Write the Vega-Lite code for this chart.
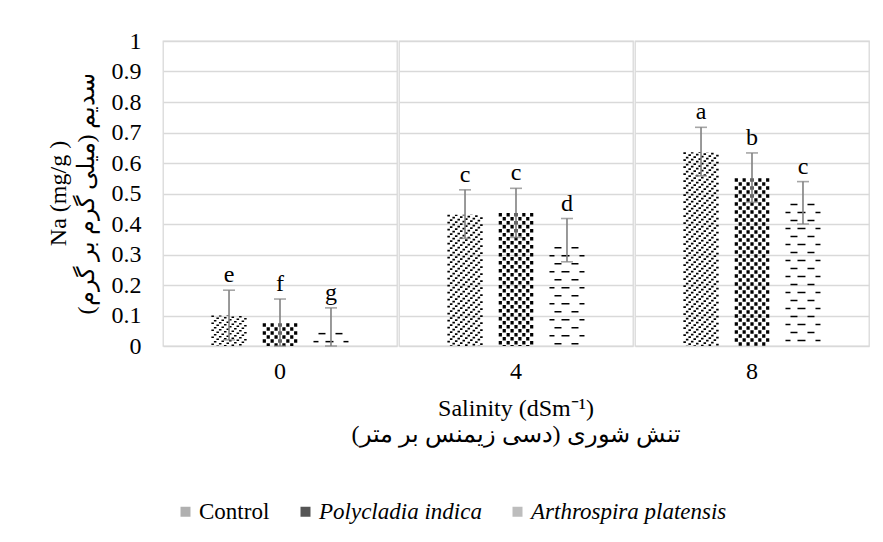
{
  "$schema": "https://vega.github.io/schema/vega-lite/v6.json",
  "autosize": {"type": "pad"},
  "padding": {"left": 46, "top": 29, "right": 5, "bottom": 5},
  "background": "white",
  "config": {
    "font": "Liberation Serif, Times New Roman, serif",
    "view": {"stroke": "#d9d9d9", "strokeWidth": 1.3},
    "axis": {"labelFont": "Liberation Serif, Times New Roman, serif", "titleFont": "Liberation Serif, Times New Roman, serif", "labelColor": "black", "titleColor": "black", "titleFontWeight": "normal", "labelFontSize": 24, "titleFontSize": 24, "ticks": false, "domain": false, "grid": true, "gridColor": "#d9d9d9", "gridWidth": 1.3, "labelOverlap": false},
    "axisY": {"tickCount": 10, "format": "~g", "labelPadding": 21, "titleLineHeight": 28, "titleAngle": -90, "titleX": -104, "titleY": 152, "titleAlign": "center", "titleBaseline": "middle"},
    "header": {"labelFont": "Liberation Serif, Times New Roman, serif", "titleFont": "Liberation Serif, Times New Roman, serif", "labelFontSize": 24, "titleFontSize": 24, "titleFontWeight": "normal", "labelColor": "black", "titleColor": "black"},
    "legend": {"labelFont": "Liberation Serif, Times New Roman, serif", "labelFontSize": 23, "labelColor": "black", "labelLimit": 0}
  },
  "data": {
    "values": [
      {"g": "0", "s": "Control", "mean": 0.10, "lo": 0.02, "hi": 0.183, "letter": "e"},
      {"g": "0", "s": "Polycladia indica", "mean": 0.075, "lo": 0.0, "hi": 0.154, "letter": "f"},
      {"g": "0", "s": "Arthrospira platensis", "mean": 0.043, "lo": 0.0, "hi": 0.125, "letter": "g"},
      {"g": "4", "s": "Control", "mean": 0.43, "lo": 0.353, "hi": 0.512, "letter": "c"},
      {"g": "4", "s": "Polycladia indica", "mean": 0.436, "lo": 0.356, "hi": 0.517, "letter": "c"},
      {"g": "4", "s": "Arthrospira platensis", "mean": 0.325, "lo": 0.276, "hi": 0.418, "letter": "d"},
      {"g": "8", "s": "Control", "mean": 0.635, "lo": 0.558, "hi": 0.717, "letter": "a"},
      {"g": "8", "s": "Polycladia indica", "mean": 0.55, "lo": 0.471, "hi": 0.633, "letter": "b"},
      {"g": "8", "s": "Arthrospira platensis", "mean": 0.466, "lo": 0.40, "hi": 0.539, "letter": "c"}
    ]
  },
  "spacing": 0,
  "facet": {
    "column": {
      "field": "g", "type": "nominal", "sort": ["0", "4", "8"],
      "title": ["Salinity (dSm⁻¹)", "تنش شوری (دسی زیمنس بر متر)"],
      "header": {"labelOrient": "bottom", "titleOrient": "bottom", "labelPadding": 9, "labelBaseline": "top", "titlePadding": 3, "titleLineHeight": 26}
    }
  },
  "spec": {
    "width": 234,
    "height": 305,
    "encoding": {
      "x": {
        "field": "s", "type": "nominal", "sort": ["Control", "Polycladia indica", "Arthrospira platensis"],
        "scale": {"paddingInner": 0.31, "paddingOuter": 0.95},
        "axis": null
      },
      "y": {"field": "mean", "type": "quantitative", "scale": {"domain": [0, 1]}, "title": ["Na (mg/g )", "سدیم (میلی گرم بر گرم)"]}
    },
    "layer": [
      {
        "mark": {"type": "bar", "opacity": 0},
        "encoding": {
          "fill": {
            "field": "s", "type": "nominal",
            "sort": ["Control", "Polycladia indica", "Arthrospira platensis"],
            "scale": {"domain": ["Control", "Polycladia indica", "Arthrospira platensis"], "range": ["#b0b0b0", "#555555", "#bdbdbd"]},
            "legend": {
              "title": null, "orient": "none", "direction": "horizontal",
              "legendX": 11, "legendY": 459,
              "symbolType": "square", "symbolSize": 100, "symbolStrokeWidth": 0, "symbolOpacity": 1,
              "columnPadding": 24, "labelOffset": 2,
              "encode": {"labels": {"update": {"fontStyle": {"signal": "datum.value === 'Control' ? 'normal' : 'italic'"}}}}
            }
          }
        }
      },
      {"transform": [{"filter": "datum.s === 'Control'"}], "mark": {"type": "rule", "color": "black", "strokeWidth": 2.52, "xOffset": -16.38, "strokeDash": [1.6, 5.4], "strokeDashOffset": 0}, "encoding": {"y2": {"datum": 0}}},
      {"transform": [{"filter": "datum.s === 'Control'"}], "mark": {"type": "rule", "color": "black", "strokeWidth": 2.52, "xOffset": -13.86, "strokeDash": [1.6, 5.4], "strokeDashOffset": 2.5}, "encoding": {"y2": {"datum": 0}}},
      {"transform": [{"filter": "datum.s === 'Control'"}], "mark": {"type": "rule", "color": "black", "strokeWidth": 2.52, "xOffset": -11.34, "strokeDash": [1.6, 5.4], "strokeDashOffset": 5}, "encoding": {"y2": {"datum": 0}}},
      {"transform": [{"filter": "datum.s === 'Control'"}], "mark": {"type": "rule", "color": "black", "strokeWidth": 2.52, "xOffset": -8.82, "strokeDash": [1.6, 5.4], "strokeDashOffset": 7.5}, "encoding": {"y2": {"datum": 0}}},
      {"transform": [{"filter": "datum.s === 'Control'"}], "mark": {"type": "rule", "color": "black", "strokeWidth": 2.52, "xOffset": -6.3, "strokeDash": [1.6, 5.4], "strokeDashOffset": 10}, "encoding": {"y2": {"datum": 0}}},
      {"transform": [{"filter": "datum.s === 'Control'"}], "mark": {"type": "rule", "color": "black", "strokeWidth": 2.52, "xOffset": -3.78, "strokeDash": [1.6, 5.4], "strokeDashOffset": 12.5}, "encoding": {"y2": {"datum": 0}}},
      {"transform": [{"filter": "datum.s === 'Control'"}], "mark": {"type": "rule", "color": "black", "strokeWidth": 2.52, "xOffset": -1.26, "strokeDash": [1.6, 5.4], "strokeDashOffset": 15}, "encoding": {"y2": {"datum": 0}}},
      {"transform": [{"filter": "datum.s === 'Control'"}], "mark": {"type": "rule", "color": "black", "strokeWidth": 2.52, "xOffset": 1.26, "strokeDash": [1.6, 5.4], "strokeDashOffset": 17.5}, "encoding": {"y2": {"datum": 0}}},
      {"transform": [{"filter": "datum.s === 'Control'"}], "mark": {"type": "rule", "color": "black", "strokeWidth": 2.52, "xOffset": 3.78, "strokeDash": [1.6, 5.4], "strokeDashOffset": 20}, "encoding": {"y2": {"datum": 0}}},
      {"transform": [{"filter": "datum.s === 'Control'"}], "mark": {"type": "rule", "color": "black", "strokeWidth": 2.52, "xOffset": 6.3, "strokeDash": [1.6, 5.4], "strokeDashOffset": 22.5}, "encoding": {"y2": {"datum": 0}}},
      {"transform": [{"filter": "datum.s === 'Control'"}], "mark": {"type": "rule", "color": "black", "strokeWidth": 2.52, "xOffset": 8.82, "strokeDash": [1.6, 5.4], "strokeDashOffset": 25}, "encoding": {"y2": {"datum": 0}}},
      {"transform": [{"filter": "datum.s === 'Control'"}], "mark": {"type": "rule", "color": "black", "strokeWidth": 2.52, "xOffset": 11.34, "strokeDash": [1.6, 5.4], "strokeDashOffset": 27.5}, "encoding": {"y2": {"datum": 0}}},
      {"transform": [{"filter": "datum.s === 'Control'"}], "mark": {"type": "rule", "color": "black", "strokeWidth": 2.52, "xOffset": 13.86, "strokeDash": [1.6, 5.4], "strokeDashOffset": 30}, "encoding": {"y2": {"datum": 0}}},
      {"transform": [{"filter": "datum.s === 'Control'"}], "mark": {"type": "rule", "color": "black", "strokeWidth": 2.52, "xOffset": 16.38, "strokeDash": [1.6, 5.4], "strokeDashOffset": 32.5}, "encoding": {"y2": {"datum": 0}}},
      {"transform": [{"filter": "datum.s === 'Polycladia indica'"}], "mark": {"type": "rule", "color": "black", "strokeWidth": 3.2, "xOffset": -15.68, "strokeDash": [3.5, 4.5], "strokeDashOffset": 0}, "encoding": {"y2": {"datum": 0}}},
      {"transform": [{"filter": "datum.s === 'Polycladia indica'"}], "mark": {"type": "rule", "color": "black", "strokeWidth": 3.2, "xOffset": -11.76, "strokeDash": [3.5, 4.5], "strokeDashOffset": 4}, "encoding": {"y2": {"datum": 0}}},
      {"transform": [{"filter": "datum.s === 'Polycladia indica'"}], "mark": {"type": "rule", "color": "black", "strokeWidth": 3.2, "xOffset": -7.84, "strokeDash": [3.5, 4.5], "strokeDashOffset": 0}, "encoding": {"y2": {"datum": 0}}},
      {"transform": [{"filter": "datum.s === 'Polycladia indica'"}], "mark": {"type": "rule", "color": "black", "strokeWidth": 3.2, "xOffset": -3.92, "strokeDash": [3.5, 4.5], "strokeDashOffset": 4}, "encoding": {"y2": {"datum": 0}}},
      {"transform": [{"filter": "datum.s === 'Polycladia indica'"}], "mark": {"type": "rule", "color": "black", "strokeWidth": 3.2, "xOffset": 0, "strokeDash": [3.5, 4.5], "strokeDashOffset": 0}, "encoding": {"y2": {"datum": 0}}},
      {"transform": [{"filter": "datum.s === 'Polycladia indica'"}], "mark": {"type": "rule", "color": "black", "strokeWidth": 3.2, "xOffset": 3.92, "strokeDash": [3.5, 4.5], "strokeDashOffset": 4}, "encoding": {"y2": {"datum": 0}}},
      {"transform": [{"filter": "datum.s === 'Polycladia indica'"}], "mark": {"type": "rule", "color": "black", "strokeWidth": 3.2, "xOffset": 7.84, "strokeDash": [3.5, 4.5], "strokeDashOffset": 0}, "encoding": {"y2": {"datum": 0}}},
      {"transform": [{"filter": "datum.s === 'Polycladia indica'"}], "mark": {"type": "rule", "color": "black", "strokeWidth": 3.2, "xOffset": 11.76, "strokeDash": [3.5, 4.5], "strokeDashOffset": 4}, "encoding": {"y2": {"datum": 0}}},
      {"transform": [{"filter": "datum.s === 'Polycladia indica'"}], "mark": {"type": "rule", "color": "black", "strokeWidth": 3.2, "xOffset": 15.68, "strokeDash": [3.5, 4.5], "strokeDashOffset": 0}, "encoding": {"y2": {"datum": 0}}},
      {"transform": [{"filter": "datum.s === 'Arthrospira platensis'"}], "mark": {"type": "rule", "color": "black", "strokeWidth": 7, "xOffset": -9, "strokeDash": [1.5, 14.5], "strokeDashOffset": 0}, "encoding": {"y2": {"datum": 0}}},
      {"transform": [{"filter": "datum.s === 'Arthrospira platensis'"}], "mark": {"type": "rule", "color": "black", "strokeWidth": 7, "xOffset": 8, "strokeDash": [1.5, 14.5], "strokeDashOffset": 0}, "encoding": {"y2": {"datum": 0}}},
      {"transform": [{"filter": "datum.s === 'Arthrospira platensis'"}], "mark": {"type": "rule", "color": "black", "strokeWidth": 5, "xOffset": -15, "strokeDash": [1.5, 14.5], "strokeDashOffset": 8}, "encoding": {"y2": {"datum": 0}}},
      {"transform": [{"filter": "datum.s === 'Arthrospira platensis'"}], "mark": {"type": "rule", "color": "black", "strokeWidth": 8, "xOffset": -1.5, "strokeDash": [1.5, 14.5], "strokeDashOffset": 8}, "encoding": {"y2": {"datum": 0}}},
      {"transform": [{"filter": "datum.s === 'Arthrospira platensis'"}], "mark": {"type": "rule", "color": "black", "strokeWidth": 5, "xOffset": 15, "strokeDash": [1.5, 14.5], "strokeDashOffset": 8}, "encoding": {"y2": {"datum": 0}}},
      {
        "mark": {"type": "rule", "color": "#808080", "strokeWidth": 1.6},
        "encoding": {
          "y": {"field": "lo", "type": "quantitative", "title": ["Na (mg/g )", "سدیم (میلی گرم بر گرم)"]},
          "y2": {"field": "hi"}
        }
      },
      {
        "mark": {"type": "tick", "color": "#808080", "thickness": 1.6, "size": 12, "orient": "horizontal"},
        "encoding": {"y": {"field": "lo", "type": "quantitative", "title": ["Na (mg/g )", "سدیم (میلی گرم بر گرم)"]}}
      },
      {
        "mark": {"type": "tick", "color": "#808080", "thickness": 1.6, "size": 12, "orient": "horizontal"},
        "encoding": {"y": {"field": "hi", "type": "quantitative", "title": ["Na (mg/g )", "سدیم (میلی گرم بر گرم)"]}}
      },
      {
        "mark": {"type": "text", "fontSize": 24, "font": "Liberation Serif, Times New Roman, serif", "color": "black", "baseline": "alphabetic", "dy": -8},
        "encoding": {
          "y": {"field": "hi", "type": "quantitative", "title": ["Na (mg/g )", "سدیم (میلی گرم بر گرم)"]},
          "text": {"field": "letter"}
        }
      }
    ]
  }
}
